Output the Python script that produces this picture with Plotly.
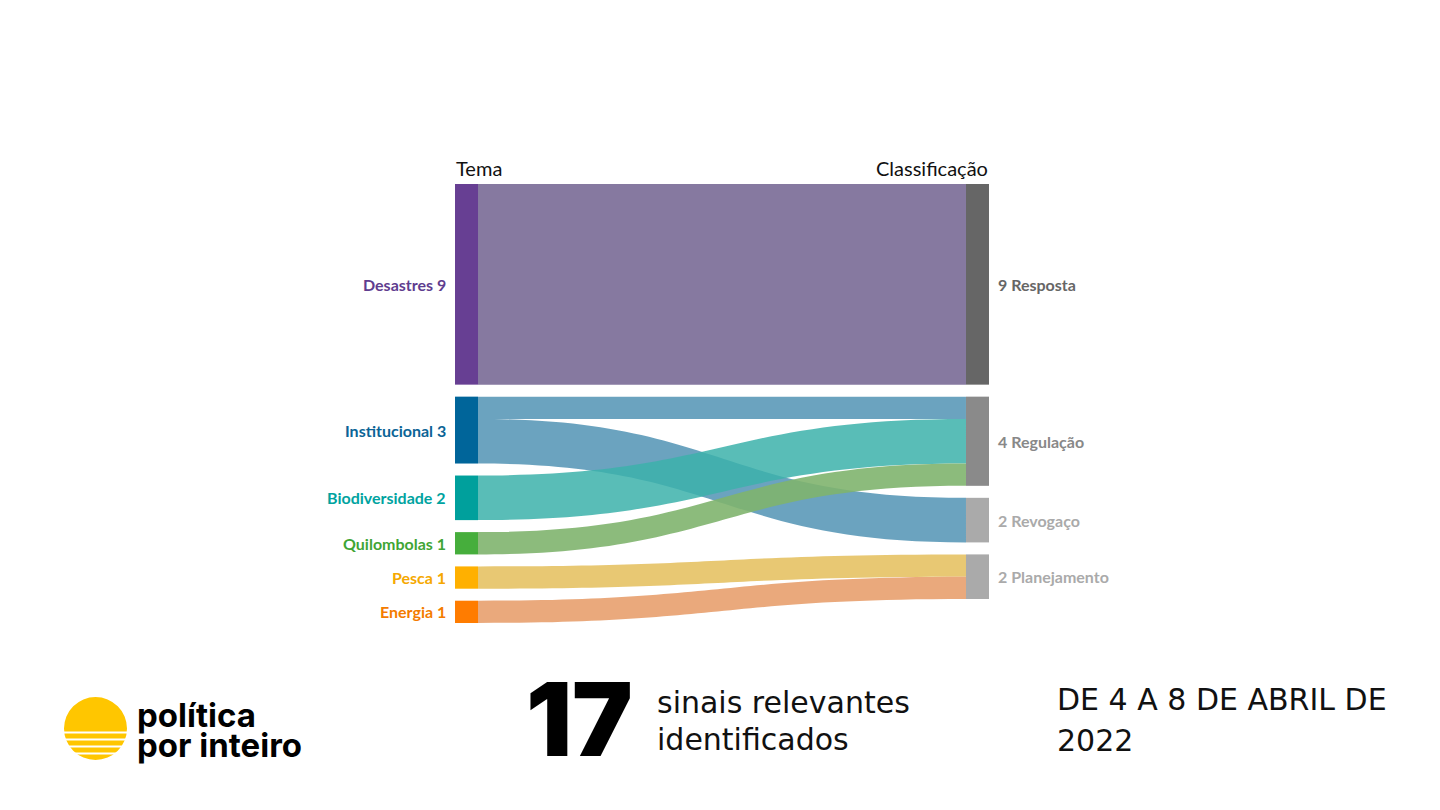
import plotly.graph_objects as go

# ---------------- data ----------------
temas = ["Desastres", "Institucional", "Biodiversidade", "Quilombolas", "Pesca", "Energia"]
classes = ["Resposta", "Regulação", "Revogaço", "Planejamento"]
link_source = ["Desastres", "Institucional", "Institucional", "Biodiversidade", "Quilombolas", "Pesca", "Energia"]
link_target = ["Resposta", "Regulação", "Revogaço", "Regulação", "Regulação", "Planejamento", "Planejamento"]
link_value = [9, 1, 2, 2, 1, 1, 1]
total_sinais = "17"
header_left = "Tema"
header_right = "Classificação"
periodo = ["DE 4 A 8 DE ABRIL DE", "2022"]
subtitulo = ["sinais relevantes", "identificados"]
logo = ["política", "por inteiro"]

# ---------------- styles ----------------
tema_node_col = ["#673f93", "#00659a", "#00a09c", "#46ae3c", "#ffb000", "#ff7c00"]
tema_text_col = ["#5f3d8f", "#0b6496", "#00a3a0", "#3fa535", "#f5a800", "#f47c00"]
class_node_col = ["#666666", "#8a8a8a", "#aaaaaa", "#aaaaaa"]
class_text_col = ["#666666", "#888888", "#aaaaaa", "#aaaaaa"]
link_col = {
    "Desastres": "rgba(134,121,160,1)",
    "Institucional": "rgba(70,140,175,0.8)",
    "Biodiversidade": "rgba(60,178,170,0.85)",
    "Quilombolas": "rgba(128,180,110,0.9)",
    "Pesca": "rgba(230,194,100,0.9)",
    "Energia": "rgba(232,160,110,0.9)",
}

W, H = 1440, 810
OFF = 8  # page body margin offset


def px(x):
    return (x - OFF) / W


def py(y):
    return 1 - (y - OFF) / H


LX, RX = 466.5, 977.5      # node centre columns (px in screenshot)
TOP, BOT = 184, 623        # vertical extent of node area (px in screenshot)
PAD = 12
THICK = 23

nodes = temas + classes
idx = {n: i for i, n in enumerate(nodes)}

tot = {n: 0 for n in nodes}
for s, t, v in zip(link_source, link_target, link_value):
    tot[s] += v
    tot[t] += v

hd = BOT - TOP
ky = (hd - (len(temas) - 1) * PAD) / sum(tot[n] for n in temas)


def centres(col):
    out, y = [], 0.0
    for n in col:
        h = tot[n] * ky
        out.append(y + h / 2)
        y += h + PAD
    return out


left_c = centres(temas)
right_c = centres(classes)

node_x = [0.001] * len(temas) + [0.999] * len(classes)
node_y = [c / hd for c in left_c] + [c / hd for c in right_c]

fig = go.Figure(go.Sankey(
    arrangement="fixed",
    domain=dict(x=[px(LX - 0.5), px(RX + 0.5)], y=[py(BOT), py(TOP)]),
    node=dict(
        label=["" for _ in nodes],
        customdata=nodes,
        hovertemplate="%{customdata}: %{value}<extra></extra>",
        x=node_x, y=node_y,
        pad=PAD, thickness=THICK,
        color=tema_node_col + class_node_col,
        line=dict(width=0),
    ),
    link=dict(
        source=[idx[s] for s in link_source],
        target=[idx[t] for t in link_target],
        value=link_value,
        color=[link_col[s] for s in link_source],
    ),
))

ann = []
label_font = "Lato"
for n, c, col in zip(temas, left_c, tema_text_col):
    ann.append(dict(x=px(448), y=py(TOP + c), xref="paper", yref="paper",
                    text=f"<b>{n} {tot[n]}</b>", showarrow=False, xanchor="right", yanchor="middle",
                    font=dict(family=label_font, size=16, color=col)))
for n, c, col in zip(classes, right_c, class_text_col):
    ann.append(dict(x=px(996), y=py(TOP + c), xref="paper", yref="paper",
                    text=f"<b>{tot[n]} {n}</b>", showarrow=False, xanchor="left", yanchor="middle",
                    font=dict(family=label_font, size=16, color=col)))

# headers
ann.append(dict(x=px(454), y=py(168), xref="paper", yref="paper", text=header_left,
                showarrow=False, xanchor="left", yanchor="middle",
                font=dict(family="Lato", size=20, color="#111111")))
ann.append(dict(x=px(990), y=py(168), xref="paper", yref="paper", text=header_right,
                showarrow=False, xanchor="right", yanchor="middle",
                font=dict(family="Lato", size=20, color="#111111")))

# bottom: total
ann.append(dict(x=px(524), y=py(719), xref="paper", yref="paper", text=total_sinais,
                showarrow=False, xanchor="left", yanchor="middle",
                font=dict(family="Inter", size=102, color="#000000", weight=900)))
ann.append(dict(x=px(655), y=py(702), xref="paper", yref="paper", text=subtitulo[0],
                showarrow=False, xanchor="left", yanchor="middle",
                font=dict(family="DejaVu Sans", size=30, color="#111111")))
ann.append(dict(x=px(655), y=py(739), xref="paper", yref="paper", text=subtitulo[1],
                showarrow=False, xanchor="left", yanchor="middle",
                font=dict(family="DejaVu Sans", size=30, color="#111111")))
# period
ann.append(dict(x=px(1055), y=py(699), xref="paper", yref="paper", text=periodo[0],
                showarrow=False, xanchor="left", yanchor="middle",
                font=dict(family="DejaVu Sans", size=30, color="#111111")))
ann.append(dict(x=px(1055), y=py(740), xref="paper", yref="paper", text=periodo[1],
                showarrow=False, xanchor="left", yanchor="middle",
                font=dict(family="DejaVu Sans", size=30, color="#111111")))
# logo text
ann.append(dict(x=px(135), y=py(715), xref="paper", yref="paper", text=f"<b>{logo[0]}</b>",
                showarrow=False, xanchor="left", yanchor="middle",
                font=dict(family="Inter", size=33, color="#000000")))
ann.append(dict(x=px(135), y=py(745), xref="paper", yref="paper", text=f"<b>{logo[1]}</b>",
                showarrow=False, xanchor="left", yanchor="middle",
                font=dict(family="Inter", size=33, color="#000000")))

# logo sun
shapes = [dict(type="circle", xref="paper", yref="paper",
               x0=px(64), x1=px(127), y0=py(760), y1=py(697),
               fillcolor="#ffc600", line=dict(width=0))]
for yy in [731.5, 738.5, 745.5, 752.5]:
    shapes.append(dict(type="rect", xref="paper", yref="paper",
                       x0=px(60), x1=px(131), y0=py(yy + 2), y1=py(yy),
                       fillcolor="#ffffff", line=dict(width=0)))

fig.update_layout(
    width=W, height=H,
    margin=dict(l=0, r=0, t=0, b=0),
    paper_bgcolor="#ffffff", plot_bgcolor="#ffffff",
    annotations=ann, shapes=shapes,
    font=dict(family="Lato"),
)

fig.write_html("out.html")
